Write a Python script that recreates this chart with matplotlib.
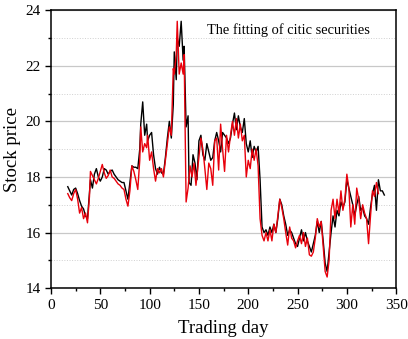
import numpy as np
import matplotlib.pyplot as plt
from matplotlib.ticker import MultipleLocator

days_actual = [17, 19, 21, 23, 25, 27, 29, 31, 33, 35, 37, 39, 40, 42, 44, 46, 48, 50, 52, 54,
               56, 58, 60, 62, 64, 66, 68, 70, 72, 74, 76, 78, 80, 82, 84, 86, 88, 90, 91, 93,
               95, 97, 98, 100, 102, 104, 106, 108, 110, 112, 114, 116, 118, 120, 122, 124, 125, 127, 128, 130,
               132, 134, 135, 137, 139, 140, 142, 144, 146, 148, 150, 152, 154, 156, 158, 160, 162, 164, 166, 168,
               170, 172, 174, 176, 178, 180, 182, 184, 186, 188, 190, 192, 194, 196, 198, 200, 202, 204, 206, 208,
               210, 212, 214, 216, 218, 220, 222, 224, 226, 228, 230, 232, 234, 236, 238, 240, 242, 244, 246, 248,
               250, 252, 254, 256, 258, 260, 262, 264, 266, 268, 270, 272, 274, 276, 278, 280, 282, 284, 286, 288,
               290, 292, 294, 296, 298, 300, 302, 304, 306, 308, 310, 312, 314, 316, 318, 320, 322, 324, 326, 328,
               330, 332, 334, 336, 338]
price_actual = [17.65, 17.5, 17.35, 17.55, 17.6, 17.4, 17.15, 16.95, 16.85, 16.6, 16.5, 17.4, 17.9, 17.6, 18.1, 18.3, 18.0, 17.85, 18.0, 18.3,
                18.25, 18.1, 18.2, 18.25, 18.1, 18.0, 17.9, 17.85, 17.8, 17.8, 17.5, 17.2, 17.8, 18.4, 18.35, 18.35, 18.3, 19.0, 19.9, 20.7,
                19.5, 19.9, 19.3, 19.5, 19.6, 18.8, 18.3, 18.1, 18.35, 18.15, 18.1, 18.7, 19.4, 20.0, 19.4, 20.6, 22.5, 21.5, 23.0, 22.7,
                23.6, 22.2, 22.7, 19.8, 20.2, 17.8, 17.7, 18.8, 18.5, 17.9, 19.3, 19.5, 18.8, 18.6, 19.2, 18.9, 18.6, 18.7, 19.3, 19.6,
                19.3, 18.9, 19.6, 19.5, 19.4, 19.2, 19.4, 19.9, 20.3, 19.7, 20.2, 19.8, 19.6, 20.1, 19.2, 18.9, 19.3, 18.7, 19.1, 18.9,
                19.1, 17.9, 16.2, 16.0, 16.1, 15.9, 16.2, 16.0, 16.3, 16.0, 16.5, 17.2, 17.0, 16.6, 16.3, 15.9, 16.1, 16.0, 15.8, 15.6,
                15.5, 15.8, 16.1, 15.7, 16.0, 15.7, 15.5, 15.3, 15.6, 15.9, 16.4, 16.0, 16.4, 15.7, 14.9, 14.6, 15.3, 16.0, 16.6, 16.2,
                16.8, 16.6, 17.1, 16.9, 17.1, 17.9, 17.6, 17.3, 17.0, 16.6, 17.0, 17.3, 16.8, 16.9, 16.6, 16.5, 16.3, 16.9, 17.4, 17.7,
                16.8, 17.9, 17.5, 17.5, 17.35]

days_fit = [17, 19, 21, 23, 25, 27, 29, 31, 33, 35, 37, 39, 40, 42, 44, 46, 48, 50, 52, 54,
            56, 58, 60, 62, 64, 66, 68, 70, 72, 74, 76, 78, 80, 82, 84, 86, 88, 90, 91, 93,
            95, 97, 98, 100, 102, 104, 106, 108, 110, 112, 114, 116, 118, 120, 122, 124, 125, 127, 128, 130,
            132, 134, 135, 137, 139, 141, 143, 145, 147, 150, 152, 154, 156, 158, 160, 162, 164, 166, 168, 170,
            172, 174, 176, 178, 180, 182, 184, 186, 188, 190, 192, 194, 196, 198, 200, 202, 204, 206, 208, 210,
            212, 214, 216, 218, 220, 222, 224, 226, 228, 230, 232, 234, 236, 238, 240, 242, 244, 246, 248, 250,
            252, 254, 256, 258, 260, 262, 264, 266, 268, 270, 272, 274, 276, 278, 280, 282, 284, 286, 288, 290,
            292, 294, 296, 298, 300, 302, 304, 306, 308, 310, 312, 314, 316, 318, 320, 322, 324, 326, 328, 330,
            332]
price_fit = [17.4, 17.25, 17.15, 17.4, 17.55, 17.2, 16.7, 16.9, 16.5, 16.7, 16.35, 17.3, 18.2, 18.05, 17.9, 17.75, 17.95, 18.2, 18.45, 18.15,
             17.95, 18.05, 18.25, 18.0, 17.95, 17.85, 17.75, 17.7, 17.6, 17.55, 17.2, 16.95, 17.5, 18.4, 18.2, 17.9, 17.55, 18.6, 19.8, 18.9,
             19.2, 19.05, 19.5, 18.6, 18.9, 18.3, 17.85, 18.3, 18.15, 18.3, 18.0, 18.6, 19.2, 19.8, 19.5, 21.9, 21.7, 22.4, 23.6, 21.7,
             22.1, 21.7, 22.4, 17.1, 17.6, 18.4, 18.0, 18.5, 17.7, 18.7, 19.4, 19.0, 18.3, 17.55, 18.5, 18.3, 17.7, 19.3, 19.4, 18.25,
             19.9, 19.0, 18.2, 19.5, 18.9, 19.5, 20.0, 19.5, 20.1, 19.4, 19.9, 19.3, 19.5, 18.0, 18.6, 18.3, 19.0, 18.6, 19.0, 18.4,
             16.5, 15.9, 15.7, 16.0, 15.7, 16.1, 15.7, 16.3, 16.0, 16.6, 17.2, 16.9, 16.5, 16.0, 15.55, 16.2, 15.8, 15.7, 15.45, 15.7,
             15.9, 15.6, 16.0, 15.5, 15.8, 15.2, 15.15, 15.3, 15.8, 16.5, 16.2, 16.4, 15.5, 14.6, 14.4, 15.0, 16.8, 17.2, 16.5, 17.2,
             16.7, 17.5, 16.8, 17.2, 18.1, 17.6, 16.2, 17.0, 16.3, 17.6, 17.2, 16.5, 17.0, 16.7, 16.5, 15.6, 16.6, 17.5, 17.3, 17.8,
             17.4]

plt.rcParams['font.family'] = ['Liberation Serif', 'DejaVu Serif']

fig = plt.figure(figsize=(4.08, 3.39), dpi=100)
ax = fig.add_axes([0.125, 0.150, 0.846, 0.820])

ax.plot(days_actual, price_actual, color='black', lw=1.0, zorder=3)
ax.plot(days_fit, price_fit, color='#e8000b', lw=1.0, zorder=4)

ax.set_xlim(0, 350)
ax.set_ylim(14, 24)
ax.xaxis.set_major_locator(MultipleLocator(50))
ax.xaxis.set_minor_locator(MultipleLocator(25))
ax.yaxis.set_major_locator(MultipleLocator(2))
ax.yaxis.set_minor_locator(MultipleLocator(1))

ax.grid(axis='y', which='major', color='#c8c8c8', lw=0.9, ls='-', zorder=0)
ax.grid(axis='y', which='minor', color='#d0d0d0', lw=0.7, ls=':', zorder=0)

ax.tick_params(which='major', direction='out', length=4, width=1, labelsize=11)
ax.tick_params(which='minor', direction='out', length=2.5, width=1)
for s in ax.spines.values():
    s.set_linewidth(1.1)

ax.set_xlabel('Trading day', fontsize=13.5, labelpad=6)
ax.set_ylabel('Stock price', fontsize=13.5, labelpad=3)
ax.text(0.452, 0.93, 'The fitting of citic securities', transform=ax.transAxes,
        fontsize=10.4, va='center', ha='left')

fig.savefig('out.png', dpi=100)
